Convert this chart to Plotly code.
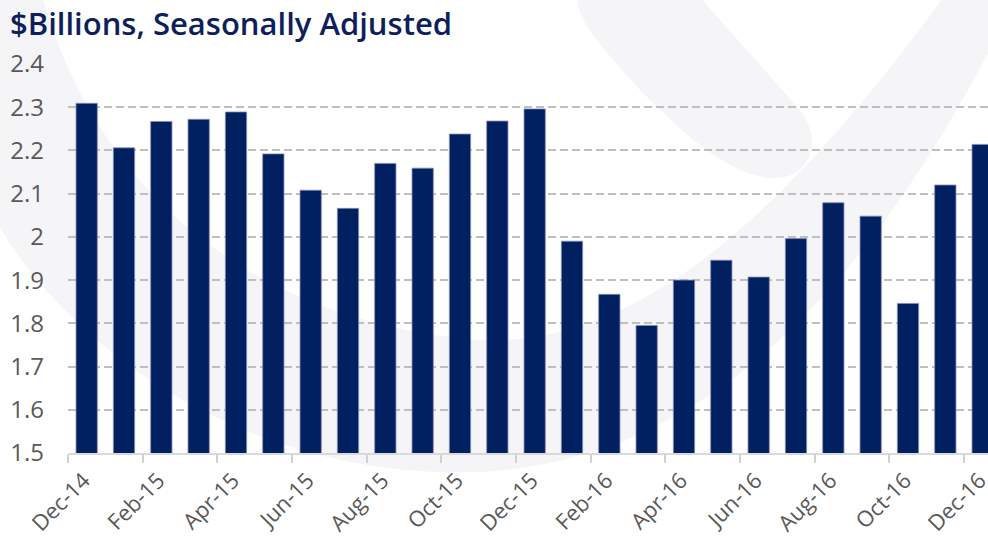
import plotly.graph_objects as go

months = ["Dec-14", "Jan-15", "Feb-15", "Mar-15", "Apr-15", "May-15", "Jun-15",
          "Jul-15", "Aug-15", "Sep-15", "Oct-15", "Nov-15", "Dec-15",
          "Jan-16", "Feb-16", "Mar-16", "Apr-16", "May-16", "Jun-16",
          "Jul-16", "Aug-16", "Sep-16", "Oct-16", "Nov-16", "Dec-16"]
values = [2.309, 2.206, 2.267, 2.272, 2.289, 2.192, 2.108,
          2.066, 2.170, 2.159, 2.238, 2.268, 2.296,
          1.990, 1.867, 1.795, 1.900, 1.946, 1.907,
          1.996, 2.079, 2.048, 1.846, 2.120, 2.214]
y_ticks = [1.5, 1.6, 1.7, 1.8, 1.9, 2.0, 2.1, 2.2, 2.3, 2.4]
y_tick_text = ["1.5", "1.6", "1.7", "1.8", "1.9", "2", "2.1", "2.2", "2.3", "2.4"]
title_text = "$Billions, Seasonally Adjusted"

W, H = 988, 541
PAGE_L, PAGE_T, PAGE_B, PAGE_R = 68, 64, 453, 988
ML, MT, MB, MR = PAGE_L, PAGE_T, H - PAGE_B, W - PAGE_R
PW, PH = PAGE_R - PAGE_L, PAGE_B - PAGE_T


def px_path(points):
    # convert pixel points of the faint background watermark into paper coords
    out = []
    for cmd, pts in points:
        coords = " ".join(f"{(x - PAGE_L) / PW:.4f},{(PAGE_B - y) / PH:.4f}" for x, y in pts)
        out.append(f"{cmd}{coords}")
    return " ".join(out) + " Z"


wm_color = "#F5F4F6"
swoosh = px_path([
    ("M", [(0, -5)]), ("L", [(42, -5)]),
    ("C", [(90, 170), (230, 320), (480, 340)]),
    ("C", [(620, 345), (760, 250), (945, -5)]),
    ("L", [(995, -5)]), ("L", [(995, 40)]),
    ("C", [(860, 300), (700, 460), (480, 472)]),
    ("C", [(260, 480), (80, 360), (0, 228)]),
])
diag = px_path([
    ("M", [(578, -5)]), ("L", [(698, -5)]), ("L", [(800, 110)]),
    ("C", [(830, 150), (800, 190), (755, 175)]),
    ("C", [(720, 165), (690, 140), (640, 90)]),
    ("C", [(590, 35), (575, 15), (578, -5)]),
])

fig = go.Figure()
fig.add_trace(go.Bar(
    x=months, y=values, width=0.57,
    marker=dict(color="#00205F", line=dict(color="rgba(130,140,185,0.8)", width=1)),
    hoverinfo="x+y",
))

fig.update_layout(
    width=W, height=H,
    margin=dict(l=ML, r=MR, t=MT, b=MB, autoexpand=False),
    paper_bgcolor="white", plot_bgcolor="rgba(0,0,0,0)",
    showlegend=False,
    title=dict(text=title_text, x=10 / W, xanchor="left", xref="container",
               y=1 - 24 / H, yanchor="middle", yref="container",
               font=dict(family="Open Sans", size=31, color="#0E1F5B", weight=600)),
    font=dict(family="Open Sans", color="#595959"),
    shapes=[
        dict(type="path", xref="paper", yref="paper", path=swoosh,
             fillcolor=wm_color, line=dict(width=0), layer="below"),
        dict(type="path", xref="paper", yref="paper", path=diag,
             fillcolor=wm_color, line=dict(width=0), layer="below"),
    ],
)
x_end = -0.5 + (PAGE_R - PAGE_L) / ((964 - 68) / 24)
fig.update_xaxes(
    type="category", range=[-0.5, x_end], automargin=False,
    tickmode="linear", tick0=0, dtick=2, tickangle=-45,
    ticks="outside", tickson="boundaries", ticklen=8, tickwidth=1.5, tickcolor="#D0D0D0",
    showline=True, linecolor="#D9D9D9", linewidth=2,
    showgrid=False, ticklabelstandoff=4, ticklabelshift=-3,
    tickfont=dict(family="Open Sans", size=22, color="#595959"),
)
fig.update_yaxes(
    range=[1.5, 2.4], tickmode="array", tickvals=y_ticks, ticktext=y_tick_text,
    automargin=False,
    showgrid=True, gridcolor="#BFBFBF", gridwidth=1.5, griddash="8px,4px",
    zeroline=False, showline=False, ticks="", ticklabelstandoff=23,
    tickfont=dict(family="Open Sans", size=24, color="#595959"),
)

fig.write_html("out.html", config={"displayModeBar": False},
               post_script="document.body.style.margin='0px';")
